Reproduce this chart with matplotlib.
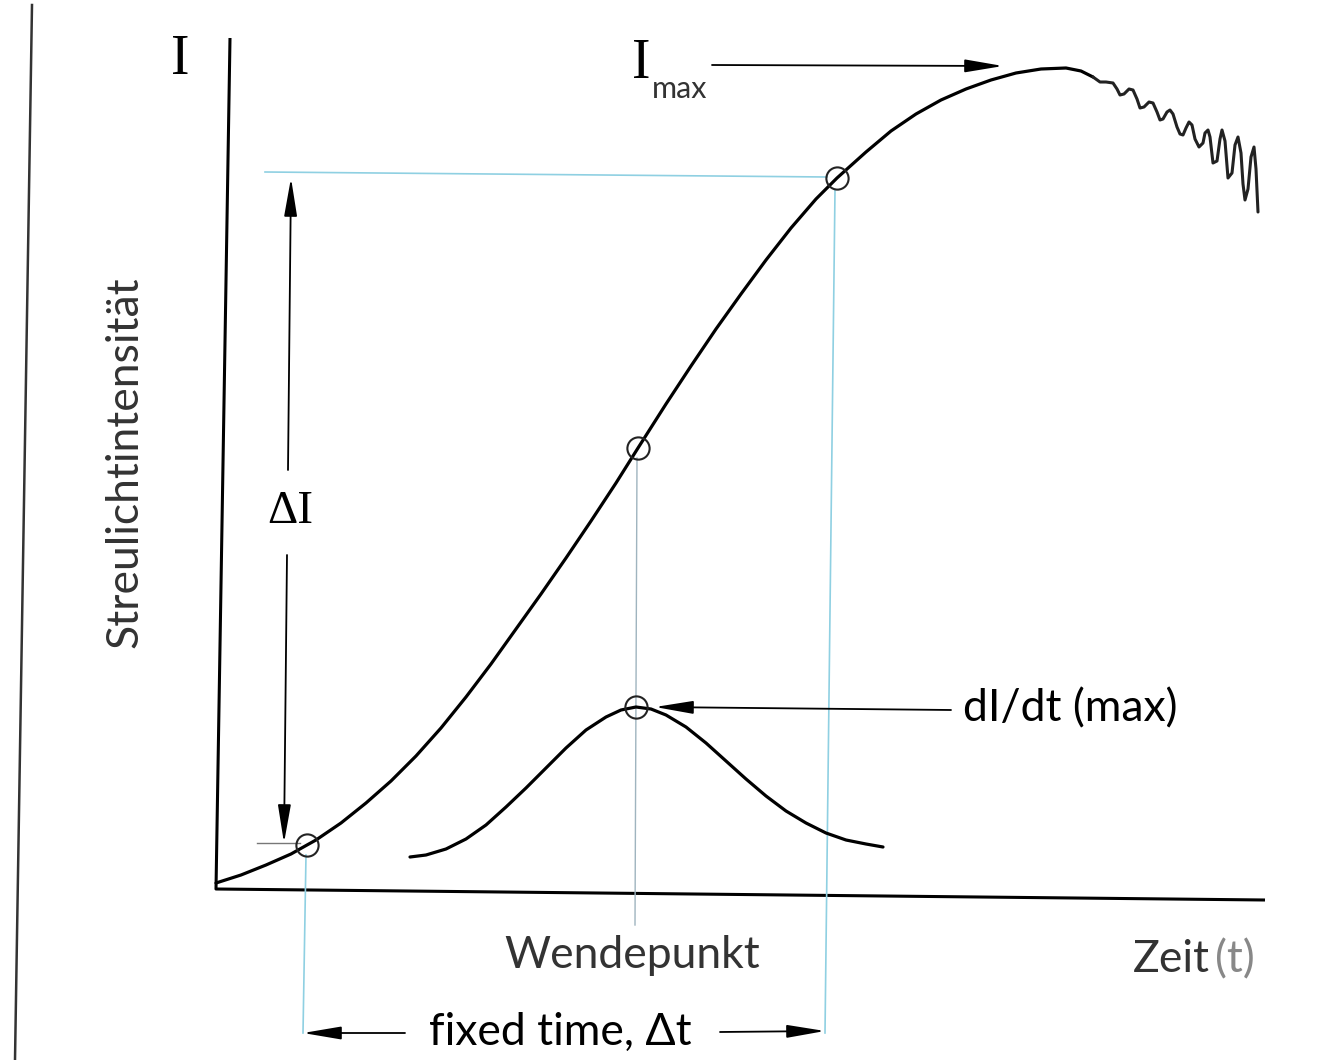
import matplotlib.pyplot as plt

# reference readings: t = time offset from the origin, I = intensity offset (both in image px)
sig_t = [0, 25, 50, 75, 91, 100, 125, 150, 175, 200, 225, 250, 275, 300, 325, 350,
         375, 400, 422, 450, 475, 500, 525, 550, 575, 600, 621, 650, 675, 700, 725,
         750, 775, 800, 825, 850, 865, 877]
sig_I = [6, 14, 24, 35, 44, 49, 66, 86, 108, 133, 161, 192, 225, 260, 295, 331,
         368, 406, 441, 485, 523, 560, 595, 629, 661, 690, 711, 737, 758, 775, 789,
         800, 809, 816, 820, 821, 818, 812]

# noisy tail after the maximum
tail_t = [877, 884, 890, 897, 901, 904, 908, 913, 917, 921, 924, 928, 933, 937, 941,
          944, 947, 951, 954, 957, 961, 964, 967, 970, 973, 976, 979, 983, 987, 989,
          992, 994, 997, 1001, 1004, 1006, 1009, 1012, 1016, 1019, 1022, 1025, 1027,
          1029, 1032, 1035, 1038, 1040, 1042]
tail_I = [812, 807, 807, 806, 800, 794, 795, 800, 799, 790, 781, 782, 787, 786, 777,
          769, 770, 777, 779, 775, 762, 755, 754, 761, 767, 764, 750, 742, 746, 756,
          759, 752, 726, 728, 750, 759, 748, 711, 716, 744, 752, 736, 705, 689, 700,
          732, 742, 720, 677]

# first derivative dI/dt
deriv_t = [194, 210, 230, 250, 270, 290, 310, 330, 350, 370, 390, 405, 420, 435, 450,
           470, 490, 510, 530, 550, 570, 590, 610, 630, 650, 667]
deriv_I = [32, 34, 40, 50, 64, 82, 101, 121, 141, 159, 172, 179, 182, 180, 174,
           162, 146, 128, 110, 93, 78, 66, 56, 49, 45, 42]

# marked points: start of window, inflection, end of window, derivative max
mark_t = [91, 422, 621, 420]
mark_I = [44, 441, 711, 182]

BLUE = "#8fd0e2"
SANS = ["Lato", "DejaVu Sans"]
SERIF = ["Liberation Serif", "DejaVu Serif"]
FS = 32

fig = plt.figure(figsize=(13.21, 10.60), dpi=100)
ax = fig.add_axes([0, 0, 1, 1])
ax.set_xlim(-216, 1105)
ax.set_ylim(-171, 889)
ax.axis("off")

# scan page edge
ax.plot([-184, -201], [884, -171], color="#333333", lw=1.8)

# axes (scan is slightly rotated)
ax.plot([14, 0, 1049], [851, 0, -11], color="black", lw=2.2, solid_capstyle="butt")

# helper lines
ax.plot([49, 611], [717, 712], color=BLUE, lw=1.2)
ax.plot([90, 87], [34, -144], color=BLUE, lw=1.2)
ax.plot([619, 609], [699, -144], color=BLUE, lw=1.2)
ax.plot([421, 419], [431, -36], color="#9fb4bf", lw=1.0)
ax.plot([41, 84], [46, 46], color="#777777", lw=1.0)

# curves
ax.plot(sig_t, sig_I, color="black", lw=2.3, solid_capstyle="round", solid_joinstyle="round")
ax.plot(tail_t, tail_I, color="#222222", lw=2.2, solid_joinstyle="round", solid_capstyle="round")
ax.plot(deriv_t, deriv_I, color="black", lw=2.3, solid_capstyle="round", solid_joinstyle="round")
ax.plot(mark_t, mark_I, ls="none", marker="o", ms=16, mfc="none", mec="#222222", mew=1.5)

arrow = dict(arrowstyle="-|>,head_length=1.3,head_width=0.22", color="black",
             lw=1.3, shrinkA=0, shrinkB=0, mutation_scale=18)

# delta I
ax.annotate("", xy=(75, 711), xytext=(72, 419), arrowprops=arrow)
ax.annotate("", xy=(68, 46), xytext=(71, 334), arrowprops=arrow)
ax.text(74, 377, "ΔI", family=SERIF, fontsize=34, ha="center", va="center")

# I max
ax.annotate("", xy=(787, 823), xytext=(496, 824), arrowprops=arrow)
ax.text(425, 825, "I", family=SERIF, fontsize=40, ha="center", va="center")
ax.text(436, 800, "max", family=SANS, fontsize=22, color="#333333",
        ha="left", va="center")

# dI/dt max
ax.annotate("", xy=(439, 182), xytext=(735, 179), arrowprops=arrow)
ax.text(747, 180, "dI/dt (max)", family=SANS, fontsize=FS, ha="left", va="center")

# fixed time window
ax.annotate("", xy=(87, -144), xytext=(189, -144), arrowprops=arrow)
ax.annotate("", xy=(609, -142), xytext=(504, -143), arrowprops=arrow)
ax.text(344, -143, "fixed time, Δt", family=SANS, fontsize=FS, ha="center", va="center")

# labels
ax.text(-36, 829, "I", family=SERIF, fontsize=40, ha="center", va="center")
ax.text(-91, 427, "Streulichtintensität", family=SANS, fontsize=FS,
        rotation=90, ha="center", va="center", color="#333333")
ax.text(416, -66, "Wendepunkt", family=SANS, fontsize=FS, ha="center", va="center",
        color="#333333")
ax.text(917, -71, "Zeit", family=SANS, fontsize=FS, ha="left", va="center", color="#333333")
ax.text(999, -71, "(t)", family=SANS, fontsize=FS, ha="left", va="center", color="#888888")

fig.savefig("out.png", dpi=100, facecolor="white")
